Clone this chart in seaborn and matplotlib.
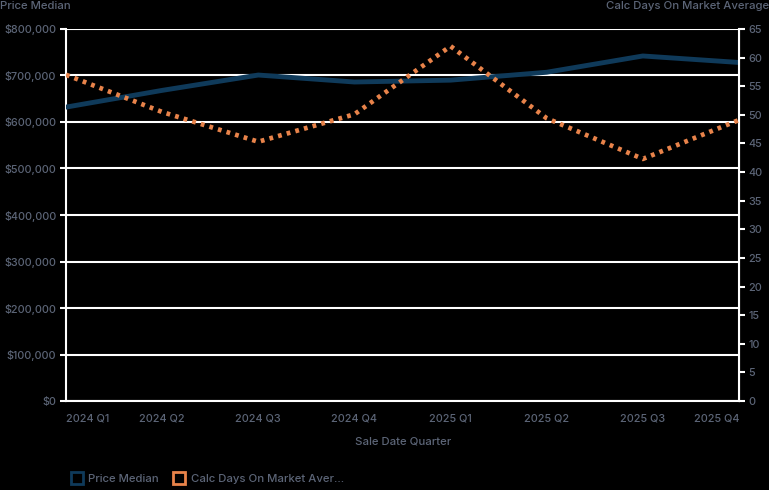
import matplotlib
matplotlib.use("Agg")
import matplotlib.pyplot as plt
import seaborn as sns
import pandas as pd
from matplotlib.ticker import FuncFormatter, MultipleLocator
from matplotlib.lines import Line2D

# Data
quarters = ["2024 Q1", "2024 Q2", "2024 Q3", "2024 Q4",
            "2025 Q1", "2025 Q2", "2025 Q3", "2025 Q4"]
price_median = [632000, 668000, 701000, 686000, 690000, 707000, 742000, 728000]
days_on_market = [57.0, 50.5, 45.3, 50.1, 62.0, 49.4, 42.3, 49.1]

df = pd.DataFrame({"quarter": quarters,
                   "price": price_median,
                   "days": days_on_market})
df["pos"] = range(len(df))

sns.set_style("dark")
plt.rcParams['font.family'] = ['Inter', 'DejaVu Sans']
plt.rcParams['font.weight'] = 'medium'

text_color = '#5c6577'
navy = '#0f3a5a'
orange = '#e8834a'

fig = plt.figure(figsize=(7.69, 4.90), dpi=100, facecolor='black')
ax = fig.add_axes([66/769, 1 - 401/490, (739-66)/769, (401-29)/490])
ax.set_facecolor('black')

sns.lineplot(data=df, x="pos", y="price", ax=ax, color=navy,
             linewidth=3.5, legend=False, zorder=3)

ax2 = ax.twinx()
sns.lineplot(data=df, x="pos", y="days", ax=ax2, color=orange,
             linewidth=3.4, linestyle=(0, (0.8, 1.1)), legend=False,
             zorder=4)

ax.set_xlim(0, len(quarters) - 1)
ax.set_ylim(0, 800000)
ax2.set_ylim(0, 65)
ax.yaxis.set_major_locator(MultipleLocator(100000))
ax2.yaxis.set_major_locator(MultipleLocator(5))
ax.yaxis.set_major_formatter(FuncFormatter(lambda v, p: f"${v:,.0f}"))

ax.set_xticks(df["pos"])
ax.set_xticklabels(quarters)
labels = ax.get_xticklabels()
labels[0].set_ha('left')
labels[-1].set_ha('right')

ax.grid(axis='y', color='white', linewidth=1.5)
ax.grid(axis='x', visible=False)
ax2.grid(False)

for a in (ax, ax2):
    a.spines['top'].set_visible(False)
    a.tick_params(colors=text_color, labelsize=7.8, length=4,
                  width=1.5, pad=3)
    a.tick_params(axis='both', color='white')
ax.spines['left'].set_color('white')
ax.spines['left'].set_linewidth(1.5)
ax.spines['bottom'].set_color('white')
ax.spines['bottom'].set_linewidth(1.5)
ax2.spines['right'].set_color('white')
ax2.spines['right'].set_linewidth(1.5)
ax2.spines['left'].set_visible(False)
ax2.spines['bottom'].set_visible(False)
ax.tick_params(axis='x', length=5, pad=4)
ax.set_ylabel("")
ax2.set_ylabel("")
ax.set_xlabel("")

fig.text(0, 1 - 6/490, "Price Median", color=text_color, fontsize=8.2,
         ha='left', va='center')
fig.text(1, 1 - 6/490, "Calc Days On Market Average", color=text_color,
         fontsize=8.2, ha='right', va='center')
fig.text(403/769, 1 - 441/490, "Sale Date Quarter", color=text_color,
         fontsize=8.2, ha='center', va='center')

handles = [
    Line2D([], [], marker='s', linestyle='none', markersize=8,
           markerfacecolor='none', markeredgecolor=navy, markeredgewidth=2),
    Line2D([], [], marker='s', linestyle='none', markersize=8,
           markerfacecolor='none', markeredgecolor=orange, markeredgewidth=2),
]
fig.legend(handles, ["Price Median", "Calc Days On Market Aver..."],
           loc='center left', bbox_to_anchor=(62/769, 1 - 479/490),
           ncol=2, frameon=False, fontsize=8.2, labelcolor=text_color,
           handletextpad=0.6, columnspacing=1.4, handlelength=0.8)

plt.savefig("out.png", dpi=100, facecolor='black')
